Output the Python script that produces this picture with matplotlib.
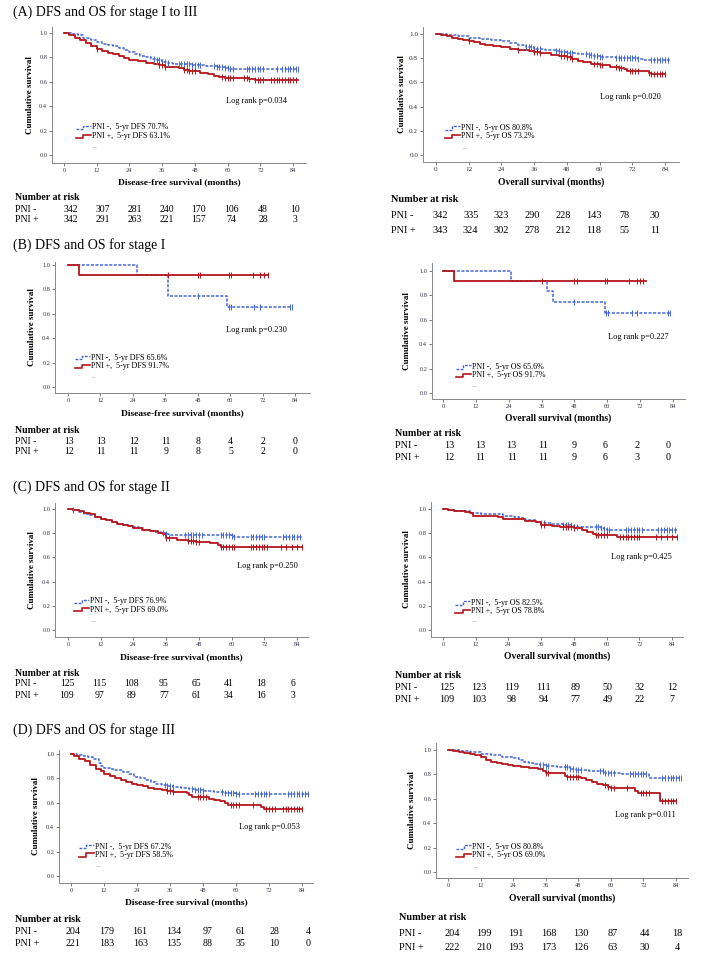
import numpy as np
import matplotlib
matplotlib.use('Agg')
import matplotlib.pyplot as plt

plt.rcParams['font.family'] = ['Liberation Serif', 'DejaVu Serif']

BLUE = '#4466d4'
RED = '#b5161b'

# ---------------- data ----------------
# (A) stage I-III, DFS
a_dfs_neg_t = [0, 3, 5, 7, 9, 10, 12, 14, 16, 18, 20, 22, 24, 26, 28, 30, 32, 34, 36, 38, 40, 43, 47, 52, 56, 59, 61]
a_dfs_neg_s = [1.0, .99, .98, .96, .95, .94, .925, .91, .90, .89, .875, .86, .845, .83, .815, .80, .785, .775, .765, .755, .748, .742, .736, .728, .72, .712, .707]
a_dfs_neg_c = [33, 34, 35, 36, 37, 38, 42, 43, 44, 45, 46, 47, 48, 49, 50, 55, 56, 57, 58, 59, 60, 61, 62,
               67, 68, 69, 70, 71, 72, 73, 78, 80, 81, 82, 83, 84, 85, 86]
a_dfs_pos_t = [0, 2, 4, 6, 8, 10, 12, 14, 16, 18, 20, 22, 24, 27, 30, 33, 35, 37, 40, 42, 44, 46, 50, 53, 55, 57, 59, 68, 70]
a_dfs_pos_s = [1.0, .98, .96, .94, .915, .895, .87, .855, .84, .825, .81, .795, .78, .77, .755, .748, .735, .725, .718, .71, .695, .685, .675, .66, .65, .64, .633, .622, .612]
a_dfs_pos_c = [12, 35, 36, 37, 44, 45, 46, 47, 48, 58, 59, 60, 61, 62, 66, 67, 68, 70, 71, 72, 73,
               76, 77, 78, 79, 80, 81, 82, 83, 84, 85]
a_dfs_end = [86, 86]
a_dfs_risk_neg = [342, 307, 281, 240, 170, 106, 48, 10]
a_dfs_risk_pos = [342, 291, 263, 221, 157, 74, 28, 3]

# (A) stage I-III, OS
a_os_neg_t = [0, 4, 8, 12, 16, 20, 24, 27, 30, 33, 36, 40, 44, 46, 48, 52, 56, 58, 60, 66, 74, 76]
a_os_neg_s = [1.0, .99, .98, .97, .96, .95, .94, .925, .905, .89, .878, .868, .858, .848, .842, .835, .825, .815, .808, .80, .79, .784]
a_os_neg_c = [33, 34, 35, 36, 37, 38, 44, 45, 46, 47, 48, 49, 50, 55, 56, 57, 58, 59, 60, 61,
              66, 67, 68, 69, 70, 71, 72, 73, 74, 79, 80, 81, 82, 83, 84, 85]
a_os_pos_t = [0, 2, 4, 6, 8, 10, 12, 14, 16, 18, 21, 24, 27, 30, 34, 36, 38, 42, 45, 48, 50, 52, 54, 57, 60, 64, 67, 69, 70, 78, 79]
a_os_pos_s = [1.0, .99, .98, .97, .96, .95, .94, .93, .92, .91, .90, .89, .88, .87, .86, .85, .84, .83, .815, .81, .795, .78, .765, .752, .74, .73, .72, .71, .698, .68, .668]
a_os_pos_c = [12, 30, 36, 37, 38, 46, 47, 48, 49, 50, 58, 59, 60, 61, 66, 67, 68, 71, 72, 73, 74,
              78, 79, 80, 81, 82, 83, 84]
a_os_end = [86, 84]
a_os_risk_neg = [342, 335, 323, 290, 228, 143, 78, 30]
a_os_risk_pos = [343, 324, 302, 278, 212, 118, 55, 11]

# (B) stage I
b_dfs_neg_t = [0, 25.5, 37, 59]
b_dfs_neg_s = [1.0, .917, .75, .656]
b_dfs_neg_c = [48, 59.5, 60.3, 69, 71, 82, 83]
b_dfs_pos_t = [0, 4]
b_dfs_pos_s = [1.0, .917]
b_dfs_pos_c = [37, 48, 49, 59.5, 60.5, 68.5, 71, 72.5, 74]
b_dfs_end = [83, 74]
b_dfs_risk_neg = [13, 13, 12, 11, 8, 4, 2, 0]
b_dfs_risk_pos = [12, 11, 11, 9, 8, 5, 2, 0]

b_os_neg_t = [0, 25, 38, 40, 59]
b_os_neg_s = [1.0, .917, .833, .75, .656]
b_os_neg_c = [48, 59.5, 60.3, 69, 71, 82, 83]
b_os_pos_t = [0, 4]
b_os_pos_s = [1.0, .917]
b_os_pos_c = [36, 48, 49, 59, 60, 68, 71, 72, 73]
b_os_end = [83, 74]
b_os_risk_neg = [13, 13, 13, 11, 9, 6, 2, 0]
b_os_risk_pos = [12, 11, 11, 11, 9, 6, 3, 0]

# (C) stage II
c_dfs_neg_t = [0, 2, 4, 6, 8, 10, 12, 14, 16, 18, 20, 22, 24, 26, 28, 30, 32, 34, 36, 37, 60, 61]
c_dfs_neg_s = [1.0, .99, .975, .96, .95, .935, .915, .905, .895, .88, .87, .86, .85, .845, .83, .82, .81, .80, .795, .789, .78, .769]
c_dfs_neg_c = [2, 35, 36, 43, 44, 45, 46, 47, 48, 49, 56, 57, 58, 59, 60, 61, 67, 68, 69, 70, 71, 72,
               79, 80, 81, 82, 83, 84, 85]
c_dfs_pos_t = [0, 2, 4, 6, 8, 10, 12, 14, 16, 18, 20, 22, 24, 27, 30, 33, 35, 36, 40, 44, 47, 52, 55, 56]
c_dfs_pos_s = [1.0, .99, .98, .965, .955, .935, .92, .905, .895, .88, .87, .86, .84, .83, .815, .80, .795, .76, .745, .735, .73, .72, .70, .69]
c_dfs_pos_c = [36, 37, 44, 45, 46, 47, 48, 56, 57, 58, 59, 60, 61, 67, 68, 69, 70, 71, 72, 73,
               78, 80, 82, 84, 86]
c_dfs_end = [86, 86]
c_dfs_risk_neg = [125, 115, 108, 95, 65, 41, 18, 6]
c_dfs_risk_pos = [109, 97, 89, 77, 61, 34, 16, 3]

c_os_neg_t = [0, 2, 4, 8, 10, 14, 20, 22, 26, 28, 30, 34, 36, 40, 44, 48, 52, 58, 59, 60]
c_os_neg_s = [1.0, .99, .985, .98, .97, .96, .955, .945, .935, .925, .905, .895, .885, .875, .865, .855, .848, .845, .835, .827]
c_os_neg_c = [36, 37, 44, 45, 46, 47, 48, 49, 56, 57, 58, 59, 60, 61, 67, 68, 69, 70, 71, 72, 73,
              79, 80, 81, 82, 83, 84, 85]
c_os_pos_t = [0, 2, 4, 8, 10, 11, 16, 20, 22, 30, 34, 36, 40, 43, 48, 51, 53, 55, 56, 64]
c_os_pos_s = [1.0, .99, .985, .975, .965, .945, .94, .935, .92, .90, .895, .87, .86, .85, .84, .83, .81, .795, .788, .765]
c_os_pos_c = [36, 37, 44, 45, 46, 47, 48, 56, 57, 58, 59, 60, 65, 66, 67, 68, 69, 70, 71, 72,
              78, 80, 82, 84, 86]
c_os_end = [86, 86]
c_os_risk_neg = [125, 123, 119, 111, 89, 50, 32, 12]
c_os_risk_pos = [109, 103, 98, 94, 77, 49, 22, 7]

# (D) stage III
d_dfs_neg_t = [0, 2, 4, 6, 8, 10, 11, 12, 14, 16, 19, 21, 23, 25, 27, 29, 31, 33, 35, 37, 40, 43, 45, 48, 52, 56, 60, 62]
d_dfs_neg_s = [1.0, .99, .985, .975, .955, .93, .905, .885, .875, .87, .855, .835, .815, .80, .785, .77, .755, .745, .735, .728, .722, .715, .707, .70, .69, .684, .674, .672]
d_dfs_neg_c = [34, 35, 36, 37, 44, 45, 46, 47, 48, 55, 56, 57, 58, 59, 60, 61, 67, 68, 69, 70, 71, 72,
               79, 80, 81, 82, 83, 84, 85, 86]
d_dfs_pos_t = [0, 1, 3, 5, 7, 9, 11, 12, 14, 16, 18, 20, 22, 24, 26, 28, 30, 33, 35, 37, 42, 43, 44, 48, 50, 52, 54, 56, 57, 69, 70]
d_dfs_pos_s = [1.0, .98, .96, .94, .91, .88, .86, .84, .82, .80, .79, .77, .755, .745, .735, .72, .71, .705, .695, .69, .68, .665, .65, .645, .635, .62, .612, .60, .586, .565, .55]
d_dfs_pos_c = [35, 36, 37, 46, 47, 48, 49, 58, 59, 60, 61, 66, 71, 72, 73, 74, 77, 78, 79, 80, 81, 82, 83, 84]
d_dfs_end = [87, 84]
d_dfs_risk_neg = [204, 179, 161, 134, 97, 61, 28, 4]
d_dfs_risk_pos = [221, 183, 163, 135, 88, 35, 10, 0]

d_os_neg_t = [0, 4, 8, 12, 16, 20, 24, 26, 28, 30, 32, 34, 36, 40, 43, 45, 47, 52, 58, 60, 64, 68, 74]
d_os_neg_s = [1.0, .99, .98, .97, .955, .945, .935, .92, .905, .895, .885, .875, .868, .862, .858, .845, .835, .825, .815, .808, .805, .80, .77]
d_os_neg_c = [34, 35, 36, 37, 43, 44, 45, 46, 47, 48, 49, 56, 57, 58, 59, 60, 61, 67, 68, 69, 70, 71, 72, 73,
              79, 80, 81, 82, 83, 84, 85, 86]
d_os_pos_t = [0, 2, 4, 6, 8, 10, 12, 14, 16, 18, 20, 22, 24, 27, 30, 33, 35, 36, 42, 43, 44, 49, 51, 53, 55, 57, 59, 60, 69, 70, 78]
d_os_pos_s = [1.0, .99, .98, .975, .965, .955, .945, .92, .905, .895, .885, .88, .87, .86, .85, .845, .825, .815, .81, .79, .78, .77, .755, .74, .725, .71, .695, .69, .665, .645, .585]
d_os_pos_c = [36, 37, 44, 45, 46, 47, 48, 58, 59, 60, 61, 66, 71, 72, 73, 74, 79, 80, 81, 82, 83, 84]
d_os_end = [86, 84]
d_os_risk_neg = [204, 199, 191, 168, 130, 87, 44, 18]
d_os_risk_pos = [222, 210, 193, 173, 126, 63, 30, 4]

titles = ['(A) DFS and OS for stage I to III', '(B) DFS and OS for stage I',
          '(C) DFS and OS for stage II', '(D) DFS and OS for stage III']
title_y = [12, 245, 487, 730]
legend_neg = ['PNI -,  5-yr DFS 70.7%', 'PNI -,  5-yr OS 80.8%', 'PNI -,  5-yr DFS 65.6%', 'PNI -,  5-yr OS 65.6%',
              'PNI -,  5-yr DFS 76.9%', 'PNI -,  5-yr OS 82.5%', 'PNI -,  5-yr DFS 67.2%', 'PNI -,  5-yr OS 80.8%']
legend_pos = ['PNI +,  5-yr DFS 63.1%', 'PNI +,  5-yr OS 73.2%', 'PNI +,  5-yr DFS 91.7%', 'PNI +,  5-yr OS 91.7%',
              'PNI +,  5-yr DFS 69.0%', 'PNI +,  5-yr OS 78.8%', 'PNI +,  5-yr DFS 58.5%', 'PNI +,  5-yr OS 69.0%']
logrank = ['0.034', '0.020', '0.230', '0.227', '0.250', '0.425', '0.053', '0.011']
xticks = [0, 12, 24, 36, 48, 60, 72, 84]
yticks = [0.0, 0.2, 0.4, 0.6, 0.8, 1.0]

curves = [
    (a_dfs_neg_t, a_dfs_neg_s, a_dfs_neg_c, a_dfs_pos_t, a_dfs_pos_s, a_dfs_pos_c, a_dfs_end, a_dfs_risk_neg, a_dfs_risk_pos),
    (a_os_neg_t, a_os_neg_s, a_os_neg_c, a_os_pos_t, a_os_pos_s, a_os_pos_c, a_os_end, a_os_risk_neg, a_os_risk_pos),
    (b_dfs_neg_t, b_dfs_neg_s, b_dfs_neg_c, b_dfs_pos_t, b_dfs_pos_s, b_dfs_pos_c, b_dfs_end, b_dfs_risk_neg, b_dfs_risk_pos),
    (b_os_neg_t, b_os_neg_s, b_os_neg_c, b_os_pos_t, b_os_pos_s, b_os_pos_c, b_os_end, b_os_risk_neg, b_os_risk_pos),
    (c_dfs_neg_t, c_dfs_neg_s, c_dfs_neg_c, c_dfs_pos_t, c_dfs_pos_s, c_dfs_pos_c, c_dfs_end, c_dfs_risk_neg, c_dfs_risk_pos),
    (c_os_neg_t, c_os_neg_s, c_os_neg_c, c_os_pos_t, c_os_pos_s, c_os_pos_c, c_os_end, c_os_risk_neg, c_os_risk_pos),
    (d_dfs_neg_t, d_dfs_neg_s, d_dfs_neg_c, d_dfs_pos_t, d_dfs_pos_s, d_dfs_pos_c, d_dfs_end, d_dfs_risk_neg, d_dfs_risk_pos),
    (d_os_neg_t, d_os_neg_s, d_os_neg_c, d_os_pos_t, d_os_pos_s, d_os_pos_c, d_os_end, d_os_risk_neg, d_os_risk_pos),
]

# ---------------- layout (pixels in the 708x961 figure) ----------------
# left spine, top, right end, bottom spine, x of tick 0, x of tick 84, y of 1.0, y of 0.0
boxes = [
    (52, 27, 306, 163, 64, 293, 33, 155),
    (423, 27, 679, 162, 436, 665, 34, 155),
    (55, 262, 310, 393, 68, 295, 265, 387),
    (432, 263, 685, 399, 443, 673, 271, 393),
    (55, 503, 308, 637, 68, 297, 509, 630),
    (431, 502, 683, 637, 443, 672, 509, 630),
    (59, 750, 313, 883, 71, 302, 754, 876),
    (436, 743, 688, 878, 448, 676, 750, 872),
]
xlabel_y = [182, 182, 413, 418, 657, 656, 902, 898]
ylabel_x = [30, 402, 32, 407, 32, 407, 36, 412]
# risk table: label x, header y, row1 y, row2 y, first number x, last number x, font size
risk = [
    (15, 198, 209, 220, 71, 295, 7.0),
    (391, 200, 215, 230, 440, 655, 7.4),
    (15, 430, 441, 452, 69, 295, 7.0),
    (395, 433, 445, 457, 449, 668, 7.3),
    (15, 673, 684, 696, 67, 293, 7.0),
    (395, 675, 688, 700, 447, 672, 7.3),
    (15, 919, 932, 944, 73, 308, 7.2),
    (399, 918, 933, 948, 452, 677, 7.4),
]
# legend: icon start (months), row1 y, row2 y, dots y
leg = [
    (4.3, .227, .153, .07), (3.3, .222, .153, .063), (2.5, .241, .17, .082), (4.6, .213, .145, .063),
    (2.3, .236, .168, .08), (4.5, .222, .154, .077), (2.9, .241, .173, .085), (3.1, .205, .137, .049),
]
lr_pos = [(59.5, .44), (60, .477), (58.6, .47), (60.4, .46), (62, .525), (61.7, .607), (61, .40), (61.5, .47)]

W, H = 708, 961
fig = plt.figure(figsize=(W / 100, H / 100), dpi=100)


def fx(px):
    return px / W


def fy(py):
    return 1 - py / H


def step_at(t, s, c):
    t = np.asarray(t, float)
    s = np.asarray(s, float)
    idx = np.searchsorted(t, np.asarray(c, float), side='right') - 1
    return s[idx]


for k, tt in enumerate(titles):
    fig.text(fx(13), fy(title_y[k]), tt, fontsize=10, va='center', ha='left')

for i in range(8):
    L, T, R, B, x0, x84, y1, y0 = boxes[i]
    nt, ns, nc, pt, ps, pc, end, rn, rp = curves[i]
    ax = fig.add_axes([fx(L), fy(B), (R - L) / W, (B - T) / H])
    sx = (x84 - x0) / 84.0
    sy = float(y0 - y1)
    ax.set_xlim((L - x0) / sx, (R - x0) / sx)
    ax.set_ylim((y0 - B) / sy, (y0 - T) / sy)
    for sp in ['top', 'right']:
        ax.spines[sp].set_visible(False)
    for sp in ['left', 'bottom']:
        ax.spines[sp].set_color('#888888')
        ax.spines[sp].set_linewidth(0.7)
    ax.set_xticks(xticks)
    ax.set_yticks(yticks)
    ax.set_yticklabels(['%.1f' % v for v in yticks])
    fs_tick = 5.2 if i == 1 else 4.6
    ax.tick_params(direction='out', length=2, width=0.6, color='#666666',
                   labelsize=fs_tick, labelcolor='#333344', pad=1.5)

    # curves
    ax.step(list(nt) + [end[0]], list(ns) + [ns[-1]], where='post', color=BLUE,
            lw=1.1, linestyle=(0, (2, 1)))
    ax.step(list(pt) + [end[1]], list(ps) + [ps[-1]], where='post', color=RED, lw=1.3)
    ax.plot(nc, step_at(nt, ns, nc), linestyle='none', marker='|', ms=3.8, mew=0.7, color=BLUE)
    ax.plot(pc, step_at(pt, ps, pc), linestyle='none', marker='|', ms=3.8, mew=0.7, color=RED)

    # legend drawn by hand
    lx, r1, r2, rd = leg[i]
    w = 15 / sx
    h = 1.7 / sy
    ax.plot([lx, lx + w / 2, lx + w / 2, lx + w], [r1 - h, r1 - h, r1 + h, r1 + h],
            color=BLUE, lw=1.0, linestyle=(0, (2, 1)))
    ax.plot([lx, lx + w / 2, lx + w / 2, lx + w], [r2 - h, r2 - h, r2 + h, r2 + h],
            color=RED, lw=1.2)
    ax.text(lx + w + 0.4, r1, legend_neg[i], fontsize=5.8, va='center', ha='left')
    ax.text(lx + w + 0.4, r2, legend_pos[i], fontsize=5.8, va='center', ha='left')
    ax.text(lx + w + 0.8, rd, '...', fontsize=4.5, va='center', ha='left', color='#777777')

    ax.text(lr_pos[i][0], lr_pos[i][1], 'Log rank p=' + logrank[i], fontsize=6.0,
            va='center', ha='left')

    # axis labels
    xl = 'Disease-free survival (months)' if i % 2 == 0 else 'Overall survival (months)'
    fs_lab = 6.9 if i % 2 == 1 else 6.8
    fig.text(fx((L + R) / 2), fy(xlabel_y[i]), xl, fontsize=fs_lab, fontweight='bold',
             ha='center', va='center')
    fig.text(fx(ylabel_x[i]), fy((T + B) / 2), 'Cumulative survival', fontsize=6.5,
             fontweight='bold', rotation=90, ha='center', va='center')

    # number at risk table
    lxp, hy, ry1, ry2, n0, n1, fs = risk[i]
    fig.text(fx(lxp), fy(hy), 'Number at risk', fontsize=fs, fontweight='bold', ha='left', va='center')
    fig.text(fx(lxp), fy(ry1), 'PNI -', fontsize=fs, ha='left', va='center')
    fig.text(fx(lxp), fy(ry2), 'PNI +', fontsize=fs, ha='left', va='center')
    cols = np.linspace(n0, n1, len(rn))
    for j in range(len(rn)):
        fig.text(fx(cols[j]), fy(ry1), str(rn[j]), fontsize=fs, ha='center', va='center')
        fig.text(fx(cols[j]), fy(ry2), str(rp[j]), fontsize=fs, ha='center', va='center')

fig.savefig('out.png', dpi=100, facecolor='white')
